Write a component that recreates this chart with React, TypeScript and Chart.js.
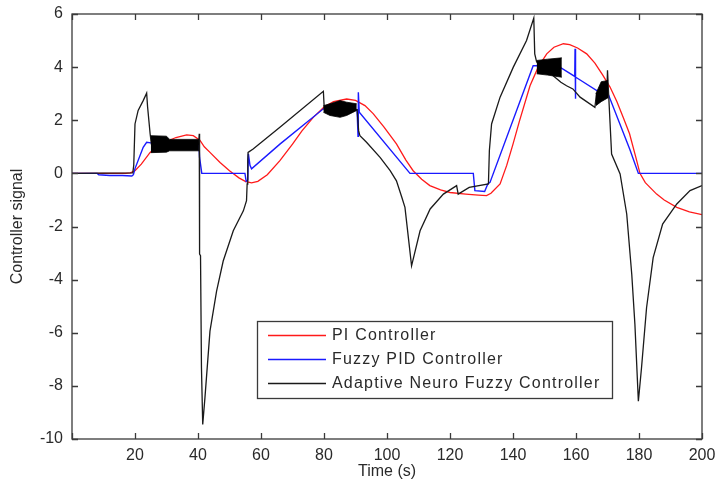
import React, { useEffect, useRef } from "react";
import { Chart, registerables } from "chart.js";

Chart.register(...registerables);

// ---------- data ----------
const xTickValues = [0, 20, 40, 60, 80, 100, 120, 140, 160, 180, 200];
const yTickValues = [-10, -8, -6, -4, -2, 0, 2, 4, 6];
const seriesNames = ["PI Controller", "Fuzzy PID Controller", "Adaptive Neuro Fuzzy Controller"];
const seriesColors = ["#ff1a1a", "#1a1aff", "#1a1a1a"];

const piController: [number, number][] = [
  [0, 0], [10, 0], [17, 0], [18.5, 0.02], [20, 0.1], [22, 0.35], [24.8, 0.79], [27, 1.0], [30, 1.2],
  [33, 1.35], [36.4, 1.45], [38.5, 1.42], [40.6, 1.25], [42, 1.0], [43.8, 0.79], [47, 0.41], [50, 0.1],
  [53, -0.17], [55, -0.3], [57, -0.36], [59, -0.3], [62, -0.05], [66, 0.48], [70, 1.1], [73, 1.6],
  [76.6, 2.11], [80, 2.5], [83, 2.7], [87.2, 2.8], [90, 2.75], [93, 2.55], [95.6, 2.25], [99, 1.75],
  [103, 1.11], [106, 0.5], [108.3, 0.1], [111, -0.22], [113.6, -0.46], [117, -0.62], [120, -0.72],
  [125, -0.78], [129, -0.82], [131.6, -0.84], [133, -0.75], [135.9, -0.4], [138, 0.3], [140, 1.1],
  [142, 1.95], [145.4, 3.3], [148, 4.0], [150.7, 4.5], [153, 4.75], [156, 4.88], [158, 4.85],
  [160.5, 4.72], [163.4, 4.5], [166, 4.15], [168.5, 3.7], [170.8, 3.25], [173, 2.7], [175, 2.1],
  [177, 1.49], [179, 0.6], [180.3, 0.0], [182, -0.35], [185.6, -0.78], [188, -1.0], [192, -1.28],
  [196, -1.45], [200, -1.55],
];

const fuzzyPid: [number, number][] = [
  [0, 0], [8, 0], [8.5, -0.05], [12, -0.08], [16, -0.08], [19, -0.1], [19.5, -0.05], [20, 0.18],
  [22.6, 0.98], [23.7, 1.17], [25, 1.15], [40.3, 1.1], [40.5, 0.6], [41.2, 0], [54.9, 0], [55.3, -0.3],
  [55.8, -0.25], [56, 0.74], [56.5, 0.3], [57, 0.17], [66, 1.1], [79.8, 2.43], [85, 2.45], [90.5, 2.4],
  [90.8, 1.4], [90.9, 3.05], [91.2, 2.3], [107.3, 0], [127.4, 0], [127.9, -0.65], [131, -0.68],
  [132, -0.4], [132.7, -0.34], [146.4, 4.05], [148, 4.05], [154.9, 4.0], [159.6, 3.65], [159.7, 4.69],
  [159.8, 2.81], [159.9, 3.62], [160.2, 3.6], [166.6, 3.12], [170, 3.05], [177.1, 0.9], [179.8, 0],
  [200, 0],
];

const adaptiveNeuroFuzzy: [number, number][] = [
  [0, 0], [19.3, 0.02], [19.6, 0.3], [20, 1.86], [21, 2.37], [22.6, 2.74], [23.7, 3.02], [24, 2.5],
  [24.8, 1.49], [25.2, 1.1], [40.2, 1.1], [40.4, 1.49], [40.5, -3.04], [40.8, -3.1], [41.1, -7.32],
  [41.5, -9.45], [42.2, -8.45], [43.8, -5.94], [45.9, -4.43], [48, -3.3], [51.2, -2.16], [54.4, -1.41],
  [55.4, -1.03], [55.6, -0.4], [55.8, 0.48], [55.9, 0.79], [57.5, 0.92], [66, 1.74], [79.8, 3.09],
  [80.1, 2.4], [90.5, 2.4], [91, 1.6], [91.4, 1.42], [93.5, 1.17], [97.8, 0.6], [101, 0.1], [103, -0.28],
  [104.7, -0.9], [105.7, -1.28], [107.8, -3.48], [110.5, -2.16], [113.7, -1.34], [117.9, -0.78],
  [122.1, -0.46], [122.6, -0.78], [126.1, -0.53], [132.2, -0.4], [132.5, 0.86], [133.2, 1.86],
  [135.9, 2.87], [140.1, 4.0], [144.3, 5.0], [146.6, 5.85], [146.9, 4.5], [147.5, 4.2], [155.2, 3.43],
  [157, 3.3], [159, 3.18], [161.3, 2.87], [166, 2.49], [166.5, 3.0], [169.8, 3.0], [170, 3.88],
  [170.3, 3.12], [171.3, 0.73], [174, -0.02], [176.1, -1.53], [177.7, -3.8], [178.7, -5.68],
  [179.8, -8.58], [180.8, -7.32], [182.4, -5.06], [184.5, -3.17], [187.5, -1.91], [192, -1.15],
  [196.2, -0.65], [200, -0.46],
];

// Oscillation bands of the adaptive neuro fuzzy controller: [x, lower, upper]
const anfcBand1: [number, number, number][] = [
  [25, 0.78, 1.42], [30, 0.8, 1.4], [31, 0.85, 1.28], [40.3, 0.85, 1.28],
];
const anfcBand2: [number, number, number][] = [
  [79.8, 2.3, 2.55], [81.9, 2.18, 2.62], [85.1, 2.11, 2.74], [87.2, 2.18, 2.68], [90.4, 2.37, 2.62],
];
const anfcBand3: [number, number, number][] = [
  [147.5, 3.75, 4.25], [151, 3.7, 4.3], [155.5, 3.62, 4.35],
];
const anfcBand4: [number, number, number][] = [
  [166.3, 2.55, 3.0], [168, 2.7, 3.45], [170.2, 2.85, 3.5],
];

const FONT = "'Liberation Sans', Arial, Helvetica, sans-serif";
const TEXT = "#2a2a2a";

const toXY = (arr: [number, number][]) => arr.map(([x, y]) => ({ x, y }));

function bandDatasets(band: [number, number, number][]) {
  return [
    {
      label: "band-low",
      data: band.map(([x, lo]) => ({ x, y: lo })),
      borderColor: "#000",
      borderWidth: 0.8,
      pointRadius: 0,
      fill: false,
      order: 0,
    },
    {
      label: "band-high",
      data: band.map(([x, , hi]) => ({ x, y: hi })),
      borderColor: "#000",
      borderWidth: 0.8,
      backgroundColor: "#000",
      pointRadius: 0,
      fill: "-1",
      order: 0,
    },
  ];
}

const framePlugin = {
  id: "matlabFrame",
  afterDraw(chart: any) {
    const { ctx, chartArea: a, scales } = chart;
    ctx.save();
    ctx.strokeStyle = "#3a3a3a";
    ctx.lineWidth = 1.3;
    ctx.strokeRect(a.left, a.top, a.right - a.left, a.bottom - a.top);
    const L = 6;
    ctx.beginPath();
    xTickValues.forEach((v) => {
      const px = Math.round(scales.x.getPixelForValue(v)) + 0.5;
      ctx.moveTo(px, a.bottom);
      ctx.lineTo(px, a.bottom - L);
      ctx.moveTo(px, a.top);
      ctx.lineTo(px, a.top + L);
    });
    yTickValues.forEach((v) => {
      const py = Math.round(scales.y.getPixelForValue(v)) + 0.5;
      ctx.moveTo(a.left, py);
      ctx.lineTo(a.left + L, py);
      ctx.moveTo(a.right, py);
      ctx.lineTo(a.right - L, py);
    });
    ctx.stroke();

    // legend
    const bx = 257, by = 321, bw = 355, bh = 77;
    ctx.fillStyle = "#fff";
    ctx.fillRect(bx, by, bw, bh);
    ctx.strokeStyle = "#3a3a3a";
    ctx.lineWidth = 1.3;
    ctx.strokeRect(bx + 0.5, by + 0.5, bw, bh);
    ctx.font = `16px ${FONT}`;
    ctx.textBaseline = "middle";
    ctx.textAlign = "left";
    if ("letterSpacing" in ctx) (ctx as any).letterSpacing = "1.2px";
    seriesNames.forEach((name, i) => {
      const y = by + 14 + i * 24;
      ctx.strokeStyle = seriesColors[i];
      ctx.lineWidth = 1.4;
      ctx.beginPath();
      ctx.moveTo(bx + 11, y + 0.5);
      ctx.lineTo(bx + 69, y + 0.5);
      ctx.stroke();
      ctx.fillStyle = TEXT;
      ctx.fillText(name, bx + 75, y + 1);
    });
    ctx.restore();
  },
};

export default function App() {
  const canvasRef = useRef<HTMLCanvasElement | null>(null);

  useEffect(() => {
    document.body.style.margin = "0";
    const canvas = canvasRef.current;
    if (!canvas) return;
    const chart = new Chart(canvas, {
      type: "line",
      data: {
        datasets: [
          {
            label: seriesNames[2],
            data: toXY(adaptiveNeuroFuzzy),
            borderColor: seriesColors[2],
            borderWidth: 1.3,
            pointRadius: 0,
            fill: false,
            order: 1,
          },
          ...bandDatasets(anfcBand1),
          ...bandDatasets(anfcBand2),
          ...bandDatasets(anfcBand3),
          ...bandDatasets(anfcBand4),
          {
            label: seriesNames[1],
            data: toXY(fuzzyPid),
            borderColor: seriesColors[1],
            borderWidth: 1.4,
            pointRadius: 0,
            fill: false,
            order: 2,
          },
          {
            label: seriesNames[0],
            data: toXY(piController),
            borderColor: seriesColors[0],
            borderWidth: 1.3,
            pointRadius: 0,
            fill: false,
            order: 3,
          },
        ] as any,
      },
      options: {
        animation: false,
        responsive: false,
        devicePixelRatio: 1,
        layout: { padding: { left: 0, top: 14, right: 17, bottom: 0 } },
        plugins: { legend: { display: false }, tooltip: { enabled: false } },
        elements: { line: { tension: 0 } },
        scales: {
          x: {
            type: "linear",
            min: 0,
            max: 200,
            grid: { display: false, drawTicks: false },
            border: { display: false },
            ticks: {
              stepSize: 20,
              padding: 7,
              color: TEXT,
              font: { family: FONT, size: 16 },
              callback: (v: any) => (v === 0 ? "" : String(v)),
              maxRotation: 0,
            },
            title: {
              display: true,
              text: "Time (s)",
              color: TEXT,
              font: { family: FONT, size: 16 },
              padding: { top: 0, bottom: 2 },
            },
            afterFit: (s: any) => {
              s.height = 44;
              s.paddingLeft = 0;
              s.paddingRight = 0;
            },
          },
          y: {
            type: "linear",
            min: -10,
            max: 6,
            grid: { display: false, drawTicks: false },
            border: { display: false },
            ticks: {
              stepSize: 2,
              padding: 9,
              color: TEXT,
              font: { family: FONT, size: 16 },
            },
            title: {
              display: true,
              text: "Controller signal",
              color: TEXT,
              font: { family: FONT, size: 16 },
              padding: { top: 8, bottom: 0 },
            },
            afterFit: (s: any) => {
              s.width = 72;
              s.paddingTop = 0;
              s.paddingBottom = 0;
            },
          },
        },
      },
      plugins: [framePlugin],
    });
    return () => chart.destroy();
  }, []);

  return (
    <div style={{ position: "fixed", left: 0, top: 0, width: 719, height: 483, background: "#fff" }}>
      <canvas ref={canvasRef} width={719} height={483} />
    </div>
  );
}
